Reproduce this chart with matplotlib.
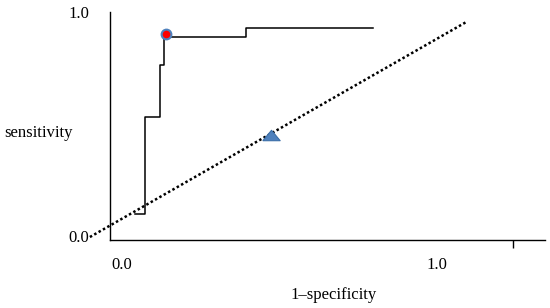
import matplotlib.pyplot as plt

plt.rcParams["font.family"] = ["Liberation Serif", "DejaVu Serif"]
plt.rcParams["font.size"] = 12

# ROC step curve (1-specificity, sensitivity)
roc_fpr = [0.080, 0.111, 0.159, 0.172, 0.433, 0.838]
roc_tpr = [0.114, 0.539, 0.768, 0.890, 0.930, 0.930]

# optimal cut-off point
cut_fpr = [0.178]
cut_tpr = [0.904]

# reference (chance) line
ref_x = [-0.064, 1.134]
ref_y = [0.013, 0.956]

# other test point
tri_x = [0.513]
tri_y = [0.461]

fig = plt.figure(figsize=(5.5, 3.08), dpi=100)
ax = fig.add_axes([0.2, 0.2208, 0.791, 0.7402])

ax.plot(roc_fpr, roc_tpr, drawstyle="steps-post", color="black", lw=1.1)
ax.plot(ref_x, ref_y, color="black", lw=1.8, linestyle=(0, (1, 1)), clip_on=False)
ax.plot(cut_fpr, cut_tpr, "o", ms=7, mfc="#ff0000", mec="#4f81bd", mew=1.5,
        clip_on=False)
tri = [(-1, -0.6), (1, -0.6), (0, 0.6), (-1, -0.6)]
ax.plot(tri_x, tri_y, marker=tri, ls="none", ms=12.5, mfc="#4f81bd",
        mec="#3b6ea8", mew=0.8)

ax.set_xlim(0, 1.385)
ax.set_ylim(0, 1)

for s in ["top", "right"]:
    ax.spines[s].set_visible(False)
ax.spines["left"].set_linewidth(1.0)
ax.spines["bottom"].set_linewidth(1.0)

ax.set_yticks([0.018, 1])
ax.set_yticklabels(["0.0", "1.0"])
ax.tick_params(axis="y", length=0, pad=15)

ax.set_xticks([0.038, 1.041])
ax.set_xticklabels(["0.0", "1.0"])
ax.tick_params(axis="x", length=0, pad=12)
ax.set_xticks([1.283], minor=True)
ax.tick_params(axis="x", which="minor", length=6, width=1, direction="out")

ax.set_ylabel("sensitivity", rotation=0, labelpad=0)
ax.yaxis.set_label_coords(-0.164, 0.435)
ax.set_xlabel("1\u2013specificity")
ax.xaxis.set_label_coords(0.515, -0.205)

fig.savefig("out.png", dpi=100)
